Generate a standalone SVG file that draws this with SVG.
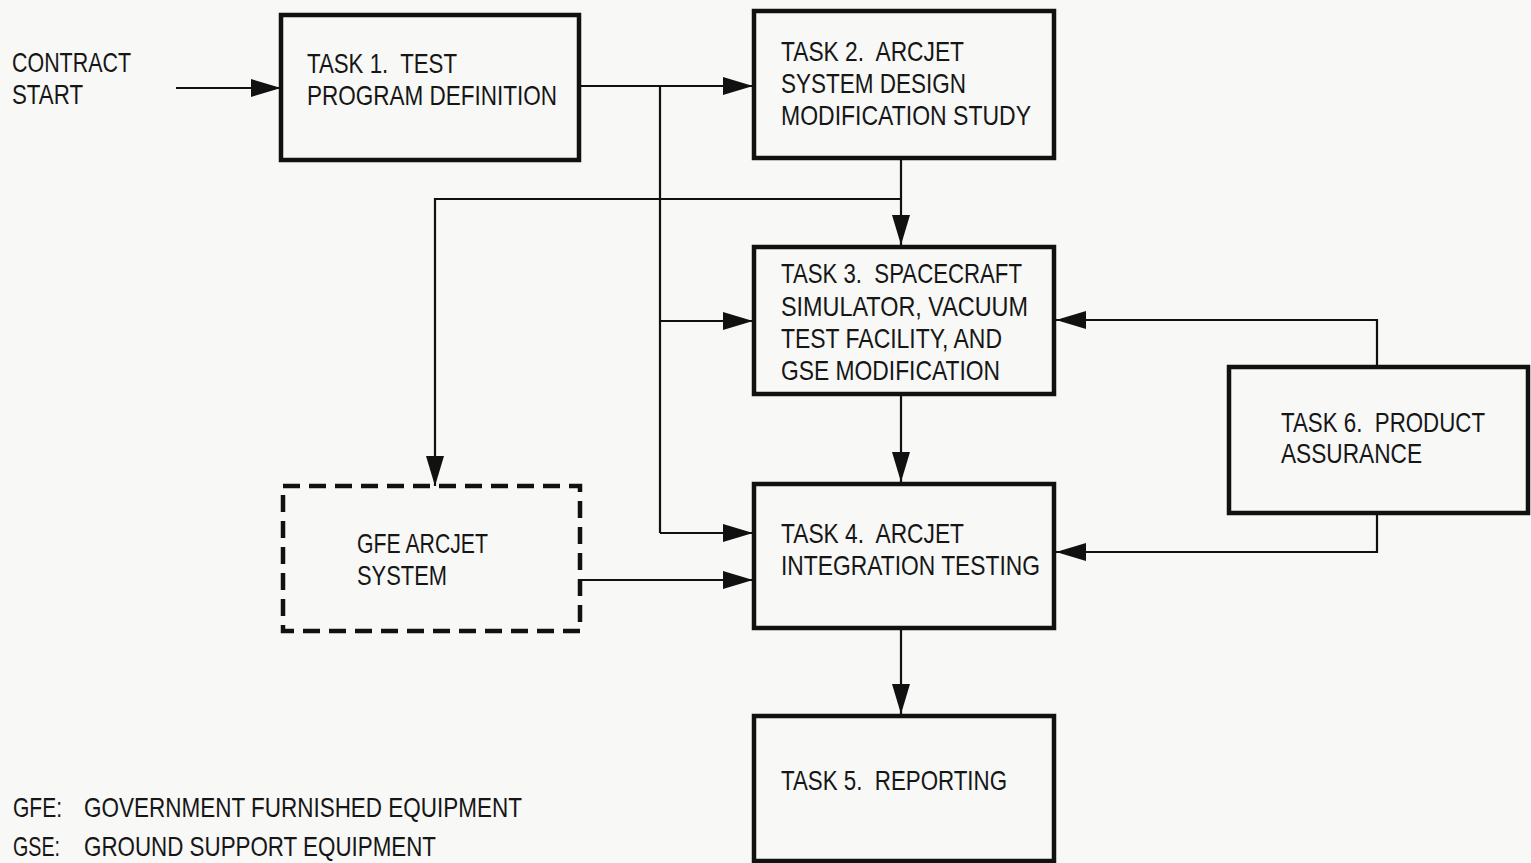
<svg xmlns="http://www.w3.org/2000/svg" width="1531" height="863" viewBox="0 0 1531 863">
<style>
.box{fill:none;stroke:#111;stroke-width:4.5}
.dash{fill:none;stroke:#111;stroke-width:4.5;stroke-dasharray:17,9}
.ln{fill:none;stroke:#111;stroke-width:2.2}
text{font-family:"Liberation Sans",Arial,sans-serif;font-size:28px;fill:#161616;white-space:pre}
</style>
<defs>
<marker id="ah" markerWidth="30" markerHeight="18" refX="30" refY="9" orient="auto" markerUnits="userSpaceOnUse">
<path d="M0,0 L30,9 L0,18 Z" fill="#111"/>
</marker>
</defs>
<rect width="1531" height="863" fill="#f8f8f6"/>
<g id="connectors">
<path class="ln" d="M176,88 H281" marker-end="url(#ah)"/>
<path class="ln" d="M580,86 H753" marker-end="url(#ah)"/>
<path class="ln" d="M660,86 V533"/>
<path class="ln" d="M660,321 H753" marker-end="url(#ah)"/>
<path class="ln" d="M660,533 H753" marker-end="url(#ah)"/>
<path class="ln" d="M901,158 V245" marker-end="url(#ah)"/>
<path class="ln" d="M901,199 H435 V486" marker-end="url(#ah)"/>
<path class="ln" d="M901,395 V482" marker-end="url(#ah)"/>
<path class="ln" d="M580,580 H753" marker-end="url(#ah)"/>
<path class="ln" d="M901,628 V714" marker-end="url(#ah)"/>
<path class="ln" d="M1377,367 V320 H1056" marker-end="url(#ah)"/>
<path class="ln" d="M1377,513 V552 H1056" marker-end="url(#ah)"/>
</g>
<g id="contract">
<text x="12" y="72" textLength="119" lengthAdjust="spacingAndGlyphs">CONTRACT</text>
<text x="12" y="104" textLength="71" lengthAdjust="spacingAndGlyphs">START</text>
</g>
<g id="task1">
<rect class="box" x="281" y="15" width="298" height="145"/>
<text x="307" y="73" textLength="150" lengthAdjust="spacingAndGlyphs">TASK 1.  TEST</text>
<text x="307" y="105" textLength="250" lengthAdjust="spacingAndGlyphs">PROGRAM DEFINITION</text>
</g>
<g id="task2">
<rect class="box" x="754" y="11" width="300" height="147"/>
<text x="781" y="61" textLength="183" lengthAdjust="spacingAndGlyphs">TASK 2.  ARCJET</text>
<text x="781" y="93" textLength="185" lengthAdjust="spacingAndGlyphs">SYSTEM DESIGN</text>
<text x="781" y="125" textLength="250" lengthAdjust="spacingAndGlyphs">MODIFICATION STUDY</text>
</g>
<g id="task3">
<rect class="box" x="754" y="247" width="300" height="147"/>
<text x="781" y="283" textLength="241" lengthAdjust="spacingAndGlyphs">TASK 3.  SPACECRAFT</text>
<text x="781" y="316" textLength="247" lengthAdjust="spacingAndGlyphs">SIMULATOR, VACUUM</text>
<text x="781" y="348" textLength="221" lengthAdjust="spacingAndGlyphs">TEST FACILITY, AND</text>
<text x="781" y="380" textLength="219" lengthAdjust="spacingAndGlyphs">GSE MODIFICATION</text>
</g>
<g id="gfe">
<rect class="dash" x="283" y="486" width="297" height="145"/>
<text x="357" y="553" textLength="131" lengthAdjust="spacingAndGlyphs">GFE ARCJET</text>
<text x="357" y="585" textLength="90" lengthAdjust="spacingAndGlyphs">SYSTEM</text>
</g>
<g id="task4">
<rect class="box" x="754" y="484" width="300" height="144"/>
<text x="781" y="543" textLength="183" lengthAdjust="spacingAndGlyphs">TASK 4.  ARCJET</text>
<text x="781" y="575" textLength="259" lengthAdjust="spacingAndGlyphs">INTEGRATION TESTING</text>
</g>
<g id="task6">
<rect class="box" x="1229" y="367" width="299" height="146"/>
<text x="1281" y="432" textLength="204" lengthAdjust="spacingAndGlyphs">TASK 6.  PRODUCT</text>
<text x="1281" y="463" textLength="141" lengthAdjust="spacingAndGlyphs">ASSURANCE</text>
</g>
<g id="task5">
<rect class="box" x="754" y="716" width="300" height="145"/>
<text x="781" y="790" textLength="226" lengthAdjust="spacingAndGlyphs">TASK 5.  REPORTING</text>
</g>
<g id="legend">
<text x="13" y="817" textLength="49" lengthAdjust="spacingAndGlyphs">GFE:</text>
<text x="84" y="817" textLength="438" lengthAdjust="spacingAndGlyphs">GOVERNMENT FURNISHED EQUIPMENT</text>
<text x="13" y="856" textLength="47" lengthAdjust="spacingAndGlyphs">GSE:</text>
<text x="84" y="856" textLength="352" lengthAdjust="spacingAndGlyphs">GROUND SUPPORT EQUIPMENT</text>
</g>
</svg>
